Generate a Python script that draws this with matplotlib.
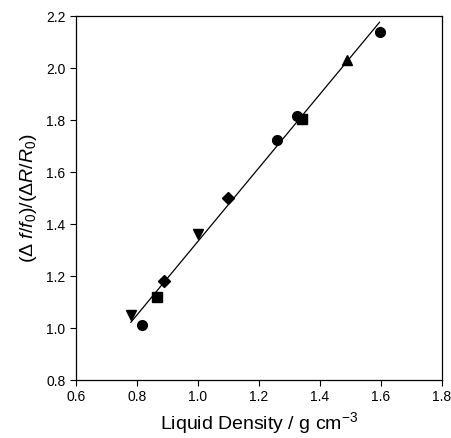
import numpy as np
import matplotlib
matplotlib.use('Agg')
import matplotlib.pyplot as plt

plt.rcParams['font.family'] = ['Liberation Sans', 'DejaVu Sans']
plt.rcParams['mathtext.fontset'] = 'custom'
plt.rcParams['mathtext.rm'] = 'Liberation Sans'
plt.rcParams['mathtext.it'] = 'Liberation Sans:italic'
plt.rcParams['mathtext.sf'] = 'Liberation Sans'

# data, grouped by marker
circle_x = [0.815, 1.26, 1.325, 1.595]
circle_y = [1.01, 1.725, 1.815, 2.14]
tri_down_x = [0.78, 1.0]
tri_down_y = [1.05, 1.36]
square_x = [0.865, 1.34]
square_y = [1.12, 1.805]
diamond_x = [0.89, 1.10]
diamond_y = [1.18, 1.50]
tri_up_x = [1.49]
tri_up_y = [2.03]

all_x = np.array(circle_x + tri_down_x + square_x + diamond_x + tri_up_x)
all_y = np.array(circle_y + tri_down_y + square_y + diamond_y + tri_up_y)

fig = plt.figure(figsize=(4.52, 4.38), dpi=100)
ax = fig.add_axes([0.168, 0.1324, 0.81, 0.831])

# linear fit over all points
b, a = np.polyfit(all_x, all_y, 1)
xf = np.array([all_x.min(), all_x.max()])
ax.plot(xf, a + b*xf, color='black', lw=0.9, zorder=1)

ax.plot(circle_x, circle_y, 'o', color='black', ms=7, zorder=2)
ax.plot(tri_down_x, tri_down_y, 'v', color='black', ms=7.5, zorder=2)
ax.plot(square_x, square_y, 's', color='black', ms=6.5, zorder=2)
ax.plot(diamond_x, diamond_y, 'D', color='black', ms=6, zorder=2)
ax.plot(tri_up_x, tri_up_y, '^', color='black', ms=7.5, zorder=2)

ax.set_xlim(0.6, 1.8)
ax.set_ylim(0.8, 2.2)
ax.set_xticks(np.arange(0.6, 1.81, 0.2))
ax.set_yticks(np.arange(0.8, 2.21, 0.2))
ax.set_xticklabels(['%.1f' % v for v in np.arange(0.6, 1.81, 0.2)])
ax.set_yticklabels(['%.1f' % v for v in np.arange(0.8, 2.21, 0.2)])
ax.tick_params(direction='out', length=4, width=0.8, labelsize=10, top=False, right=False)
for s in ax.spines.values():
    s.set_linewidth(0.9)

ax.set_xlabel(r'Liquid Density / g cm$^{-3}$', fontsize=14, labelpad=4)
ax.set_ylabel(r'($\Delta$ $\mathit{f/f}_0$)/($\Delta\mathit{R/R}_0$)', fontsize=14, labelpad=5)

fig.savefig('out.png', dpi=100)
